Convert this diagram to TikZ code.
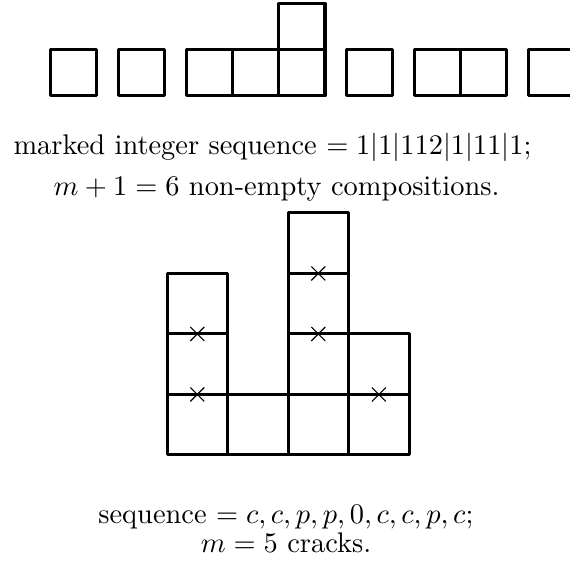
\documentclass[tikz,border=0pt]{standalone}
\usepackage{amsmath, amssymb}
\usepackage{tikz}
\usetikzlibrary{positioning, shapes.misc}

\begin{document}
\begin{tikzpicture}[x=0.352pt,y=-0.352pt,
  sq/.style={draw,line width=1.06pt,line join=round,minimum size=16.3pt,
    inner sep=0pt,outer sep=0pt},
  cell/.style={draw,line width=1.06pt,line join=round,minimum size=21.3pt,
    inner sep=0pt,outer sep=0pt},
  crack/.style={cross out,draw,line width=0.4pt,minimum size=4.9pt,
    inner sep=0pt,outer sep=0pt}]
  \useasboundingbox (0,0) rectangle (570,563);
  % marked compositions
  \node[sq](s1) at (73.6,72.8){};
  \node[sq,right=7.57pt of s1](s2){};
  \node[sq,right=7.57pt of s2](s3){};
  \node[sq,right=0pt of s3](s4){};
  \node[sq,right=0pt of s4](s5){};
  \node[sq,above=0pt of s5](s6){};
  \node[sq,right=7.57pt of s5](s7){};
  \node[sq,right=7.57pt of s7](s8){};
  \node[sq,right=0pt of s8](s9){};
  \node[sq,right=7.57pt of s9](s10){};
  \node[anchor=base](t1) at (272.5,154)
    {marked integer sequence $= 1|1|112|1|11|1;$};
  \node[anchor=base](t2) at (276.5,195)
    {$m+1 = 6$ non-empty compositions.};
  % polyomino with cracks
  \node[cell](a1) at (197.3,424.7){};
  \node[cell,above=0pt of a1](a2){};
  \node[cell,above=0pt of a2](a3){};
  \node[cell,right=0pt of a1](b1){};
  \node[cell,right=0pt of b1](c1){};
  \node[cell,above=0pt of c1](c2){};
  \node[cell,above=0pt of c2](c3){};
  \node[cell,above=0pt of c3](c4){};
  \node[cell,right=0pt of c1](d1){};
  \node[cell,above=0pt of d1](d2){};
  \node[crack] at (a1.north){};
  \node[crack] at (a2.north){};
  \node[crack] at (c2.north){};
  \node[crack] at (c3.north){};
  \node[crack] at (d1.north){};
  \node[anchor=base](t3) at (286,523)
    {sequence $= c,c,p,p,0,c,c,p,c;$};
  \node[anchor=base](t4) at (286,552)
    {$m = 5$ cracks.};
\end{tikzpicture}
\end{document}
